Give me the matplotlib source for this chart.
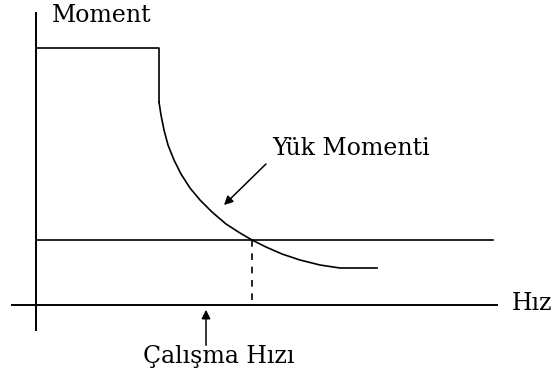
import matplotlib
matplotlib.use("Agg")
import matplotlib.pyplot as plt

# coordinates: speed to the right, torque upward,
# origin where the two axes cross

# motor torque: flat top then drop
step_x = [0, 123, 123]
step_y = [257, 257, 203]

# load torque curve
load_x = [123, 125, 128, 132, 138, 145, 154, 164, 176, 190, 204, 216, 230, 246, 264, 284, 304, 341]
load_y = [203, 190, 175, 160, 145, 131, 117, 105, 93, 81, 72, 65, 58, 51, 45, 40, 37, 37]

# working torque level and working speed
work_level = 65
work_speed = 216
level_end = 457

axis_x = [-24, 461]
axis_y = [-25, 292]

lbl_torque = "Moment"
lbl_speed = "Hız"
lbl_load = "Yük Momenti"
lbl_work = "Çalışma Hızı"

fig = plt.figure(figsize=(5.6, 3.83), dpi=100)
ax = fig.add_axes([0, 0, 1, 1])
ax.set_xlim(-36, 524)
ax.set_ylim(-78, 305)
ax.axis("off")

lw = 1.2
ax.plot(axis_x, [0, 0], color="black", lw=1.4)
ax.plot([0, 0], axis_y, color="black", lw=1.4)
ax.plot(step_x, step_y, color="black", lw=lw)
ax.plot(load_x, load_y, color="black", lw=lw)
ax.plot([0, level_end], [work_level, work_level], color="black", lw=lw)
ax.plot([work_speed, work_speed], [work_level, 0], color="black", lw=lw,
        linestyle=(0, (4, 4)))

font = dict(family="DejaVu Serif", fontsize=17, color="black")
ax.text(16, 283, lbl_torque, ha="left", va="baseline", **font)
ax.text(476, 2, lbl_speed, ha="left", va="center", **font)
ax.text(236, 150, lbl_load, ha="left", va="baseline", **font)
ax.text(183, -58, lbl_work, ha="center", va="baseline", **font)

ax.annotate("", xy=(186, 98), xytext=(232, 143),
            arrowprops=dict(arrowstyle="-|>", color="black", lw=1.1,
                            mutation_scale=13))
ax.annotate("", xy=(170, -2), xytext=(170, -43),
            arrowprops=dict(arrowstyle="-|>", color="black", lw=1.1,
                            mutation_scale=13))

fig.savefig("out.png", dpi=100)
